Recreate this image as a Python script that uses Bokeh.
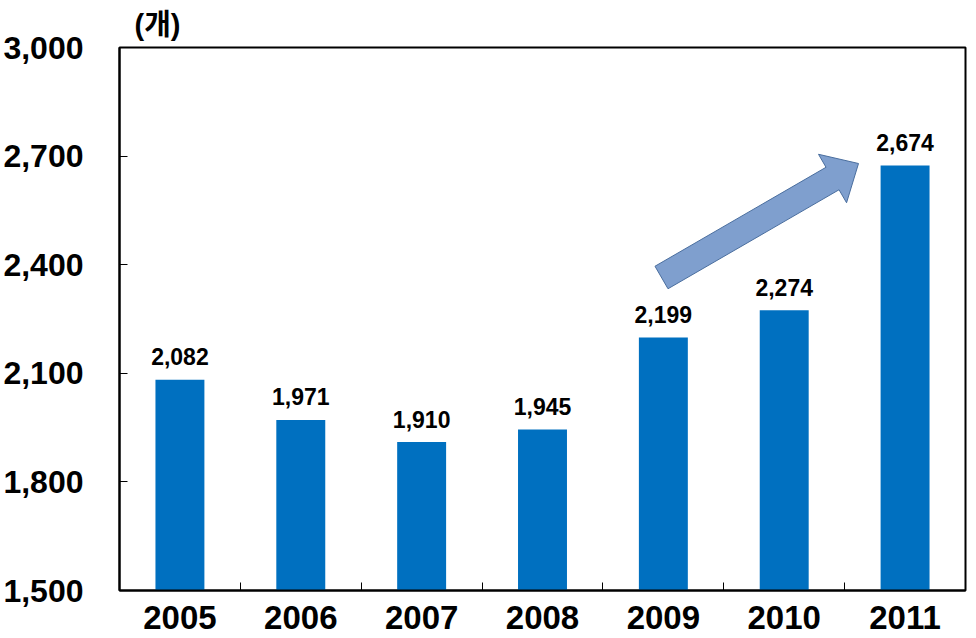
from bokeh.plotting import figure
from bokeh.models import FixedTicker, NumeralTickFormatter, Range1d, ColumnDataSource
from bokeh.core.properties import value
from bokeh.embed import file_html
from bokeh.resources import INLINE
import math

years = ["2005", "2006", "2007", "2008", "2009", "2010", "2011"]
counts = [2082, 1971, 1910, 1945, 2199, 2274, 2674]
y_ticks = [1500, 1800, 2100, 2400, 2700, 3000]
unit_label = "(개)"

Y0, Y1 = 1500, 3000
n = len(years)
xs = [i + 0.5 for i in range(n)]

W, H = 968, 638
FL, FR, FT, FB = 119, 965, 47, 590   # frame edges in picture pixels

p = figure(width=W, height=H, output_backend="svg", toolbar_location=None,
           x_range=Range1d(0, n), y_range=Range1d(Y0, Y1),
           min_border_left=FL, min_border_right=W - FR, min_border_top=FT, min_border_bottom=H - FB)
p.background_fill_color = "white"
p.border_fill_color = "white"
p.outline_line_color = "black"
p.outline_line_width = 2
p.xgrid.visible = False
p.ygrid.visible = False

p.title.text = unit_label
p.title.text_font = "Liberation Sans, Noto Sans CJK KR"
p.title.text_font_style = "bold"
p.title.text_font_size = "29px"
p.title.text_color = "black"
p.title.align = "left"
p.title.offset = 15
p.title.standoff = 13

src = ColumnDataSource(dict(x=xs, top=counts, lab=[f"{v:,}" for v in counts]))
p.vbar(x="x", top="top", bottom=Y0, width=0.405, source=src, fill_color="#0070C0", line_color=None)
p.text(x="x", y="top", text="lab", source=src, text_align="center", text_baseline="alphabetic",
       y_offset=-23, text_font=value("Liberation Sans"), text_font_style="bold",
       text_font_size="23px", text_color="black")

# arrow annotation (pixel geometry -> data)
def to_data(px, py):
    return ((px - FL) / (FR - FL) * n, Y1 - (py - FT) / (FB - FT) * (Y1 - Y0))
tail = (661, 277); tip = (858, 163)
dx, dy = tip[0] - tail[0], tip[1] - tail[1]
L = math.hypot(dx, dy); ux, uy = dx / L, dy / L
nx, ny = -uy, ux
sw, hw, hl = 13, 28, 30
bx, by = tip[0] - ux * hl, tip[1] - uy * hl
pts = [
    (tail[0] + nx * sw, tail[1] + ny * sw),
    (bx + nx * sw, by + ny * sw),
    (bx + nx * hw, by + ny * hw),
    tip,
    (bx - nx * hw, by - ny * hw),
    (bx - nx * sw, by - ny * sw),
    (tail[0] - nx * sw, tail[1] - ny * sw),
]
dpts = [to_data(a, b) for a, b in pts]
p.patch([q[0] for q in dpts], [q[1] for q in dpts], fill_color="#7F9FCE", line_color="#4A6E9E", line_width=1)

# axes
p.yaxis.ticker = FixedTicker(ticks=y_ticks)
p.yaxis.formatter = NumeralTickFormatter(format="0,0")
p.yaxis.major_tick_in = 8
p.yaxis.major_tick_out = 0
p.yaxis.minor_tick_in = 0
p.yaxis.minor_tick_out = 0
p.yaxis.major_label_standoff = 36
p.yaxis.major_label_text_font = "Liberation Sans"
p.yaxis.major_label_text_font_style = "bold"
p.yaxis.major_label_text_font_size = "32px"
p.yaxis.major_label_text_color = "black"
p.yaxis.axis_line_color = "black"
p.yaxis.axis_line_width = 2
p.yaxis.major_tick_line_color = "black"

p.xaxis.ticker = FixedTicker(ticks=xs, minor_ticks=list(range(1, n)))
p.xaxis.major_label_overrides = {x: y for x, y in zip(xs, years)}
p.xaxis.major_tick_in = 0
p.xaxis.major_tick_out = 0
p.xaxis.minor_tick_in = 8
p.xaxis.minor_tick_out = 0
p.xaxis.minor_tick_line_color = "black"
p.xaxis.major_label_standoff = 15
p.xaxis.major_label_text_font = "Liberation Sans"
p.xaxis.major_label_text_font_style = "bold"
p.xaxis.major_label_text_font_size = "33px"
p.xaxis.major_label_text_color = "black"
p.xaxis.axis_line_color = "black"
p.xaxis.axis_line_width = 2

open("out.html", "w").write(file_html(p, INLINE))
